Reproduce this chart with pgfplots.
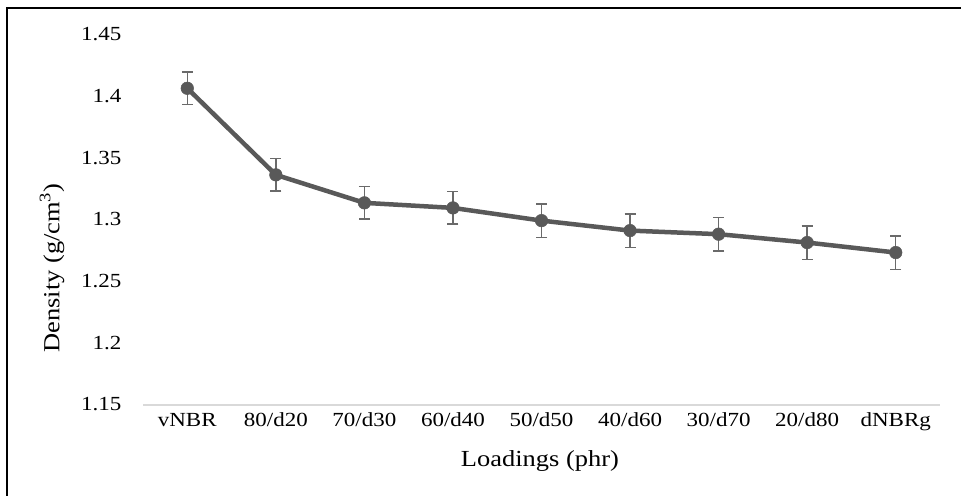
\documentclass[border=0pt]{standalone}
\usepackage{fontspec}
\setmainfont[FakeStretch=1.15]{Liberation Serif}
\usepackage{pgfplots}
\pgfplotsset{compat=1.18}
\definecolor{linegray}{HTML}{595959}
\definecolor{errgray}{HTML}{6A6A6A}
\definecolor{axisgray}{HTML}{D9D9D9}
\begin{document}
\begin{tikzpicture}[x=1bp,y=1bp]
\clip (0,0) rectangle (961,496);
\fill[white] (0,0) rectangle (961,496);
\draw[line width=2.5bp] (7,-20) rectangle (985,488);
\begin{axis}[
  at={(143bp,91bp)}, anchor=south west,
  scale only axis, width=797bp, height=370bp,
  xmin=-0.5, xmax=8.5, ymin=1.15, ymax=1.45,
  xtick={0,1,2,3,4,5,6,7,8},
  xticklabels={vNBR,80/d20,70/d30,60/d40,50/d50,40/d60,30/d70,20/d80,dNBRg},
  ytick={1.15,1.2,1.25,1.3,1.35,1.4,1.45},
  yticklabels={1.15,1.2,1.25,1.3,1.35,1.4,1.45},
  axis x line*=bottom, axis y line*=left,
  y axis line style={draw=none},
  x axis line style={draw=axisgray, line width=1.2bp},
  major tick length=0pt,
  tick label style={font=\fontsize{20bp}{22bp}\selectfont, inner sep=0pt},
  xticklabel style={anchor=base, yshift=-21.5bp},
  yticklabel style={anchor=base east, yshift=-5.7bp, xshift=-21.5bp},
  xlabel={Loadings (phr)},
  ylabel={Density (g/cm\textsuperscript{3})},
  every axis x label/.style={at={(axis description cs:0.498,-0.1514)}, anchor=center, font=\fontsize{23bp}{25bp}\selectfont},
  every axis y label/.style={at={(axis description cs:-0.1142,0.37)}, anchor=center, rotate=90, font=\fontsize{23bp}{25bp}\selectfont},
  clip=false,
]
\addplot[color=linegray, line width=4.5bp, mark=*,
  mark options={solid, fill=linegray, draw=linegray, line width=0.5bp},
  mark size=6.3bp,
  error bars/.cd, y dir=both, y explicit,
  error bar style={line width=1.4bp, color=errgray},
  error mark options={rotate=90, mark size=5.5bp, line width=1.4bp, color=errgray}]
coordinates {
(0,1.4068) +- (0,0.0132)
(1,1.3366) +- (0,0.0132)
(2,1.3139) +- (0,0.0132)
(3,1.3098) +- (0,0.0132)
(4,1.2995) +- (0,0.0135)
(5,1.2914) +- (0,0.0135)
(6,1.2885) +- (0,0.0135)
(7,1.2817) +- (0,0.0135)
(8,1.2736) +- (0,0.0135)
};
\end{axis}
\end{tikzpicture}
\end{document}
